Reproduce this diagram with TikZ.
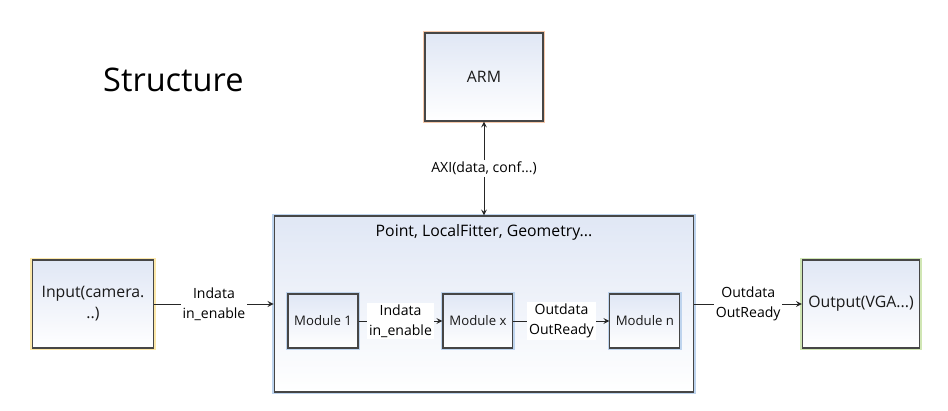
\documentclass[tikz,border=0pt]{standalone}
\usepackage{fontspec}
\setmainfont{Open Sans}
\usepackage{tikz}
\usetikzlibrary{positioning, shapes.geometric, arrows}
\definecolor{boxtop}{RGB}{224,231,245}
\definecolor{edge}{RGB}{70,70,70}
\definecolor{glowarm}{RGB}{245,200,170}
\definecolor{glowin}{RGB}{252,232,170}
\definecolor{glowout}{RGB}{208,230,180}
\definecolor{glowcore}{RGB}{190,212,238}
\tikzstyle{block} = [rectangle, draw=edge, line width=0.6pt, top color=boxtop, bottom color=white, text=black!90]
\tikzstyle{armbox} = [block, minimum width=2.36cm, minimum height=1.76cm, font=\fontsize{9}{11}\selectfont, preaction={draw=glowarm, line width=2.6pt}]
\tikzstyle{inbox} = [block, minimum width=2.32cm, minimum height=1.76cm, text width=2.2cm, align=center, font=\fontsize{9}{12}\selectfont, preaction={draw=glowin, line width=2.6pt}]
\tikzstyle{outbox} = [block, minimum width=2.32cm, minimum height=1.76cm, font=\fontsize{9}{11}\selectfont, preaction={draw=glowout, line width=2.6pt}]
\tikzstyle{corebox} = [block, minimum width=8.4cm, minimum height=3.52cm, preaction={draw=glowcore, line width=2.6pt}]
\tikzstyle{modbox} = [block, minimum width=1.4cm, minimum height=1.08cm, font=\fontsize{7.5}{9}\selectfont, preaction={draw=glowcore, line width=2pt}]
\tikzstyle{lbl} = [fill=white, align=center, inner sep=1pt, font=\fontsize{8}{11.2}\selectfont]
\tikzstyle{arrow} = [->,>=stealth, line width=0.5pt, draw=black!85]
\def\ttx{0.24}

\begin{document}
\begin{tikzpicture}[x=0.02cm, y=-0.02cm, node distance=3.1cm]
\useasboundingbox (0,0) rectangle (948,411);

\node (heading) [anchor=west, font=\fontsize{18.5}{22}\selectfont] at (97,80) {Structure};

\node (arm) [armbox] at (484,77) {ARM};
\node (core) [corebox] at (484,304) {};
\node (coretitle) [font=\fontsize{9}{11}\selectfont] at (484,232) {Point, LocalFitter, Geometry...};

\node (input) [inbox] at (93,304) {Input(camera.\\..)};
\node (output) [outbox] at (861,304) {Output(VGA...)};

\node (mod1) [modbox] at (323,321) {Module 1};
\node (modx) [modbox, right of= mod1, xshift=0cm] {Module x};
\node (modn) [modbox, right of= modx, xshift=\ttx cm] {Module n};

\draw [arrow, <->] (arm) -- node[lbl] {AXI(data, conf...)} (core);
\draw [arrow] (input) -- node[lbl] {Indata\\in\_enable} (core);
\draw [arrow] (core) -- node[lbl] {Outdata\\OutReady} (output);

\draw [arrow] (mod1) -- node[lbl] {Indata\\in\_enable} (modx);
\draw [arrow] (modx) -- node[lbl] {Outdata\\OutReady} (modn);

\end{tikzpicture}
\end{document}
